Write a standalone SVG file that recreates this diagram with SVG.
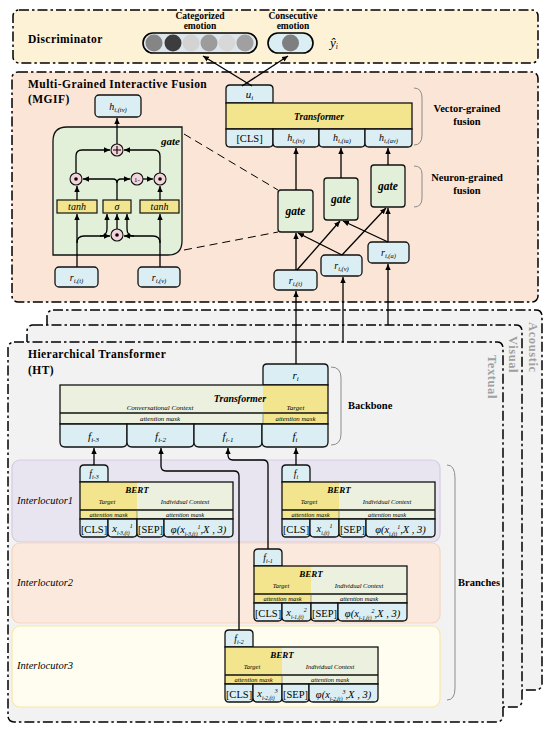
<svg xmlns="http://www.w3.org/2000/svg" width="550" height="733" viewBox="0 0 550 733">
<defs>
<marker id="ah" viewBox="0 0 10 10" refX="10" refY="5" markerWidth="6" markerHeight="6" markerUnits="userSpaceOnUse" orient="auto"><path d="M0,0.5 L10,5 L0,9.5 Z" fill="#000"/></marker>
<style>
text { font-family: "Liberation Serif", "Times New Roman", serif; fill:#000; }
.dd { stroke:#000; stroke-width:1.5; stroke-dasharray:10 3 2.5 3; }
.bl { fill:#DAEEF3; stroke:#111; stroke-width:1.3; }
.ye { fill:#F3E58D; }
.gr { fill:#EBF1DE; }
.ol { fill:none; stroke:#111; stroke-width:1.3; }
.thin { fill:none; stroke:#666; stroke-width:0.6; }
.ln { fill:none; stroke:#000; stroke-width:1.3; }
.ar { marker-end:url(#ah); }
.dash { fill:none; stroke:#000; stroke-width:1; stroke-dasharray:8 5; }
.b { font-weight:bold; }
.i { font-style:italic; }
.c { text-anchor:middle; }
.ttl { font-weight:bold; font-size:11.5px; letter-spacing:0.45px; }
.br { fill:none; stroke:#8c8c8c; stroke-width:1; }
.gb { fill:#E2F0D9; stroke:#111; stroke-width:1.3; }
.op { fill:#F4D3DA; stroke:#111; stroke-width:1.1; }
.layer { fill:#F2F2F2; }
.lt { fill:#A0A0A0; font-weight:bold; font-size:12.5px; letter-spacing:0.6px; }
</style>
</defs>

<g id="discriminator">
<rect x="13" y="10" width="525" height="53" rx="6" fill="#FDF1D6" class="dd"/>
<text x="28" y="43" class="ttl">Discriminator</text>
<text x="200" y="19" class="b c" font-size="9.5">Categorized</text>
<text x="200" y="29" class="b c" font-size="9.5">emotion</text>
<rect x="143" y="33" width="114" height="20" rx="10" fill="#DDE6EB"/>
<circle cx="154" cy="43" r="8.5" fill="#858585"/>
<circle cx="173" cy="43" r="8.5" fill="#3D3D3D"/>
<circle cx="191" cy="43" r="8.5" fill="#D3D3D3"/>
<circle cx="209" cy="43" r="8.5" fill="#9C9C9C"/>
<circle cx="227" cy="43" r="8.5" fill="#D8D8D8"/>
<circle cx="245" cy="43" r="8.5" fill="#A0A0A0"/>
<rect x="143" y="33" width="114" height="20" rx="10" fill="none" stroke="#000" stroke-width="1.6"/>
<text x="293" y="19" class="b c" font-size="9.5">Consecutive</text>
<text x="293" y="29" class="b c" font-size="9.5">emotion</text>
<rect x="268" y="33" width="45" height="20" rx="10" fill="#DAEEF3" stroke="#000" stroke-width="1.6"/>
<circle cx="290.5" cy="43" r="8.5" fill="#7F7F7F"/>
<text x="330" y="47" class="i" font-size="13">ŷ<tspan font-size="7.5" dy="2">i</tspan></text>
</g>

<g id="mgif">
<rect x="12" y="72" width="526" height="230" rx="6" fill="#FBE5D6" class="dd"/>
<text x="28" y="88" class="ttl">Multi-Grained Interactive Fusion</text>
<text x="28" y="103" class="ttl">(MGIF)</text>
</g>

<g id="gate-detail">
<rect x="95" y="95" width="46" height="22" rx="4" class="bl"/>
<text x="118" y="110" class="i c" font-size="10">h<tspan font-size="6.5" dy="2">i,(tv)</tspan></text>
<path class="gb" d="M67,127 H182 V241 Q182,255 168,255 H53 V141 Q53,127 67,127 Z"/>
<text x="180" y="145" class="b i" font-size="11" text-anchor="end">gate</text>
<rect x="57" y="200" width="40" height="13" class="ye" stroke="#111" stroke-width="1.2"/>
<text x="77" y="210" class="i c" font-size="10">tanh</text>
<rect x="103" y="200" width="28" height="13" class="ye" stroke="#111" stroke-width="1.2"/>
<text x="117" y="210" class="i c" font-size="10">σ</text>
<rect x="140" y="200" width="39" height="13" class="ye" stroke="#111" stroke-width="1.2"/>
<text x="159.5" y="210" class="i c" font-size="10">tanh</text>
<path class="ln ar" d="M77,267 V214"/>
<path class="ln ar" d="M160,267 V214"/>
<path class="ln ar" d="M77,243 Q77,236 84,236 H110"/>
<path class="ln ar" d="M100,236 Q107,236 107,229 V214"/>
<path class="ln ar" d="M160,243 Q160,236 153,236 H124"/>
<path class="ln ar" d="M134,236 Q127,236 127,229 V214"/>
<path class="ln ar" d="M117,229 V214"/>
<path class="ln ar" d="M77,200 V186"/>
<path class="ln ar" d="M160,200 V186"/>
<path class="ln ar" d="M117,200 V183 Q117,179 113,179 H83"/>
<path class="ln ar" d="M117,183 Q117,179 121,179 H130"/>
<path class="ln ar" d="M143,179 H153"/>
<path class="ln ar" d="M76,173 V156 Q76,150 82,150 H110"/>
<path class="ln ar" d="M160,173 V156 Q160,150 154,150 H124"/>
<path class="ln ar" d="M117,144 V118"/>
<circle cx="117" cy="150" r="6" class="op"/>
<path d="M113,150 H121 M117,146 V154" stroke="#000" stroke-width="1.1"/>
<circle cx="76" cy="179" r="6" class="op"/><circle cx="76" cy="179" r="1.8"/>
<circle cx="160" cy="179" r="6" class="op"/><circle cx="160" cy="179" r="1.8"/>
<circle cx="117" cy="235" r="6" class="op"/><circle cx="117" cy="235" r="1.8"/>
<circle cx="137" cy="179" r="6" class="op"/>
<text x="137" y="181.5" class="c" font-size="7">1-</text>
<rect x="55" y="267" width="43" height="20" rx="4" class="bl"/>
<text x="76.5" y="281" class="i c" font-size="10">r<tspan font-size="6.5" dy="2">i,(t)</tspan></text>
<rect x="138" y="267" width="42" height="20" rx="4" class="bl"/>
<text x="159" y="281" class="i c" font-size="10">r<tspan font-size="6.5" dy="2">i,(v)</tspan></text>
<path class="dash" d="M184,134 L278,190"/>
<path class="dash" d="M184,250 L278,232"/>
</g>

<g id="vector-fusion">
<path class="bl" d="M226,103 V89 Q226,85 230,85 H269 Q273,85 273,89 V103 Z"/>
<text x="249.5" y="98" class="i c" font-size="11">u<tspan font-size="7" dy="2">i</tspan></text>
<rect x="226" y="103" width="186" height="26" class="ye" stroke="#111" stroke-width="1.3"/>
<text x="319" y="120" class="b i c" font-size="9.5">Transformer</text>
<path class="bl" d="M226,129 H273 V143 Q273,147 269,147 H230 Q226,147 226,143 Z"/>
<path class="bl" d="M273,129 H319 V143 Q319,147 315,147 H277 Q273,147 273,143 Z"/>
<path class="bl" d="M319,129 H365 V143 Q365,147 361,147 H323 Q319,147 319,143 Z"/>
<path class="bl" d="M365,129 H412 V143 Q412,147 408,147 H369 Q365,147 365,143 Z"/>
<text x="249.5" y="142" class="c" font-size="10.5">[CLS]</text>
<text x="296" y="141" class="i c" font-size="10">h<tspan font-size="6.5" dy="2">i,(tv)</tspan></text>
<text x="342" y="141" class="i c" font-size="10">h<tspan font-size="6.5" dy="2">i,(ta)</tspan></text>
<text x="388.5" y="141" class="i c" font-size="10">h<tspan font-size="6.5" dy="2">i,(av)</tspan></text>
<path class="br" d="M414,88 Q422,88 422,98 V135 Q422,145 414,145"/>
<text x="467" y="112" class="b c" font-size="10.5">Vector-grained</text>
<text x="467" y="125" class="b c" font-size="10.5">fusion</text>
</g>

<g id="neuron-fusion">
<rect x="278" y="190" width="35" height="42" rx="3" class="gb"/>
<text x="295.5" y="215" class="b i c" font-size="11.5">gate</text>
<rect x="324" y="178" width="34" height="42" rx="3" class="gb"/>
<text x="341" y="203" class="b i c" font-size="11.5">gate</text>
<rect x="371" y="165" width="34" height="42" rx="3" class="gb"/>
<text x="388" y="190" class="b i c" font-size="11.5">gate</text>
<path class="br" d="M414,166 Q422,166 422,174 V198 Q422,207 414,207"/>
<text x="467" y="181" class="b c" font-size="10.5">Neuron-grained</text>
<text x="467" y="194" class="b c" font-size="10.5">fusion</text>
<rect x="274" y="270" width="43" height="20" rx="4" class="bl"/>
<text x="295.5" y="284" class="i c" font-size="10">r<tspan font-size="6.5" dy="2">i,(t)</tspan></text>
<rect x="321" y="255" width="41" height="21" rx="4" class="bl"/>
<text x="341.5" y="269" class="i c" font-size="10">r<tspan font-size="6.5" dy="2">i,(v)</tspan></text>
<rect x="368" y="242" width="41" height="21" rx="4" class="bl"/>
<text x="388.5" y="256" class="i c" font-size="10">r<tspan font-size="6.5" dy="2">i,(a)</tspan></text>
</g>

<g id="layers">
<rect x="47" y="310" width="495" height="380" rx="6" class="layer dd"/>
<rect x="27" y="325" width="495" height="382" rx="6" class="layer dd"/>
<rect x="8" y="342" width="495" height="380" rx="6" class="layer dd"/>
<text class="lt" transform="translate(529,322) rotate(90)">Acoustic</text>
<text class="lt" transform="translate(509,336) rotate(90)">Visual</text>
<text class="lt" transform="translate(488,355) rotate(90)">Textual</text>
<text x="28" y="358" class="ttl">Hierarchical Transformer</text>
<text x="28" y="374" class="ttl">(HT)</text>
</g>

<g id="ht-transformer">
<path class="bl" d="M263,385 V368 Q263,364 267,364 H324 Q328,364 328,368 V385 Z"/>
<text x="295.5" y="379" class="i c" font-size="11">r<tspan font-size="7" dy="2">i</tspan></text>
<rect x="60" y="385" width="203" height="39" class="gr"/>
<rect x="263" y="385" width="65" height="39" class="ye"/>
<rect x="60" y="385" width="268" height="39" class="ol"/>
<line x1="60" y1="413" x2="328" y2="413" class="ol"/>
<line x1="263" y1="413" x2="263" y2="424" class="thin"/>
<text x="240" y="402" class="b i c" font-size="10">Transformer</text>
<text x="160" y="410" class="i c" font-size="7">Conversational Context</text>
<text x="295.5" y="410" class="i c" font-size="7">Target</text>
<text x="160" y="421" class="i c" font-size="6.8">attention mask</text>
<text x="295.5" y="421" class="i c" font-size="6.8">attention mask</text>
<path class="bl" d="M60,424 H127 V442 Q127,447 122,447 H65 Q60,447 60,442 Z"/>
<path class="bl" d="M127,424 H194 V442 Q194,447 189,447 H132 Q127,447 127,442 Z"/>
<path class="bl" d="M194,424 H262 V442 Q262,447 257,447 H199 Q194,447 194,442 Z"/>
<path class="bl" d="M262,424 H328 V442 Q328,447 323,447 H267 Q262,447 262,442 Z"/>
<text x="93.5" y="440" class="i c" font-size="11">f<tspan font-size="7" dy="2">i-3</tspan></text>
<text x="160.5" y="440" class="i c" font-size="11">f<tspan font-size="7" dy="2">i-2</tspan></text>
<text x="228" y="440" class="i c" font-size="11">f<tspan font-size="7" dy="2">i-1</tspan></text>
<text x="295" y="440" class="i c" font-size="11">f<tspan font-size="7" dy="2">i</tspan></text>
<path class="br" d="M331,367 Q341,367 341,378 V434 Q341,445 331,445"/>
<text x="348" y="409" class="b" font-size="10.5">Backbone</text>
</g>

<g id="interlocutor1">
<rect x="12" y="460" width="428" height="82" rx="8" fill="#E9E5F0" stroke="#D5CCE3" stroke-width="1.2"/>
<text x="17" y="504" class="i" font-size="10.5">Interlocutor1</text>
</g>
<g id="interlocutor2">
<rect x="12" y="543" width="428" height="80" rx="8" fill="#FCE9DD" stroke="#F6D5C0" stroke-width="1.2"/>
<text x="17" y="586" class="i" font-size="10.5">Interlocutor2</text>
</g>
<g id="interlocutor3">
<rect x="12" y="626" width="428" height="81" rx="8" fill="#FEFDF0" stroke="#FAE6A8" stroke-width="1.2"/>
<text x="17" y="669" class="i" font-size="10.5">Interlocutor3</text>
</g>
<g id="branches-label">
<path class="br" d="M447,465 Q455,465 455,478 V688 Q455,700 447,700"/>
<text x="458" y="586" class="b" font-size="10.5">Branches</text>
</g>

<g id="bert-i3" transform="translate(80,482)">
<path class="bl" d="M0,0V-13Q0,-17 4,-17H24Q28,-17 28,-13V0Z"/>
<text x="14" y="-5" class="i c" font-size="9.5">f<tspan font-size="6" dy="2">i-3</tspan></text>
<rect x="0" y="0" width="57" height="37" class="ye"/>
<rect x="57" y="0" width="96" height="37" class="gr"/>
<rect x="0" y="0" width="153" height="37" class="ol"/>
<line x1="0" y1="28" x2="153" y2="28" class="ol"/>
<line x1="57" y1="28" x2="57" y2="37" class="thin"/>
<text x="57" y="11" class="b i c" font-size="9">BERT</text>
<text x="27" y="22" class="i c" font-size="6.5">Target</text>
<text x="105" y="22" class="i c" font-size="6.5">Individual Context</text>
<text x="28.5" y="35" class="i c" font-size="6.5">attention mask</text>
<text x="105" y="35" class="i c" font-size="6.5">attention mask</text>
<path class="bl" d="M0,37H28V51Q28,55 24,55H4Q0,55 0,51Z"/>
<path class="bl" d="M28,37H57V51Q57,55 53,55H32Q28,55 28,51Z"/>
<path class="bl" d="M57,37H84V51Q84,55 80,55H61Q57,55 57,51Z"/>
<path class="bl" d="M84,37H153V51Q153,55 149,55H88Q84,55 84,51Z"/>
<text x="14" y="51" class="c" font-size="10.5">[CLS]</text>
<text x="42.5" y="50" class="i c" font-size="10.5">x<tspan font-size="5.5" dy="2.5">i-3,(t)</tspan><tspan font-size="6" dy="-6.5">1</tspan></text>
<text x="70.5" y="51" class="c" font-size="10.5">[SEP]</text>
<text x="118.5" y="51" class="i c" font-size="10.5">φ(x<tspan font-size="5.5" dy="2.5">i-3,(t)</tspan><tspan font-size="6" dy="-6.5">1</tspan><tspan dy="4">,X , 3)</tspan></text>
</g>

<g id="bert-i" transform="translate(282,482)">
<path class="bl" d="M0,0V-13Q0,-17 4,-17H24Q28,-17 28,-13V0Z"/>
<text x="14" y="-5" class="i c" font-size="9.5">f<tspan font-size="6" dy="2">i</tspan></text>
<rect x="0" y="0" width="57" height="37" class="ye"/>
<rect x="57" y="0" width="96" height="37" class="gr"/>
<rect x="0" y="0" width="153" height="37" class="ol"/>
<line x1="0" y1="28" x2="153" y2="28" class="ol"/>
<line x1="57" y1="28" x2="57" y2="37" class="thin"/>
<text x="57" y="11" class="b i c" font-size="9">BERT</text>
<text x="27" y="22" class="i c" font-size="6.5">Target</text>
<text x="105" y="22" class="i c" font-size="6.5">Individual Context</text>
<text x="28.5" y="35" class="i c" font-size="6.5">attention mask</text>
<text x="105" y="35" class="i c" font-size="6.5">attention mask</text>
<path class="bl" d="M0,37H28V51Q28,55 24,55H4Q0,55 0,51Z"/>
<path class="bl" d="M28,37H57V51Q57,55 53,55H32Q28,55 28,51Z"/>
<path class="bl" d="M57,37H84V51Q84,55 80,55H61Q57,55 57,51Z"/>
<path class="bl" d="M84,37H153V51Q153,55 149,55H88Q84,55 84,51Z"/>
<text x="14" y="51" class="c" font-size="10.5">[CLS]</text>
<text x="42.5" y="50" class="i c" font-size="10.5">x<tspan font-size="5.5" dy="2.5">i,(t)</tspan><tspan font-size="6" dy="-6.5">1</tspan></text>
<text x="70.5" y="51" class="c" font-size="10.5">[SEP]</text>
<text x="118.5" y="51" class="i c" font-size="10.5">φ(x<tspan font-size="5.5" dy="2.5">i,(t)</tspan><tspan font-size="6" dy="-6.5">1</tspan><tspan dy="4">,X , 3)</tspan></text>
</g>

<g id="bert-i1" transform="translate(254,566)">
<path class="bl" d="M0,0V-13Q0,-17 4,-17H24Q28,-17 28,-13V0Z"/>
<text x="14" y="-5" class="i c" font-size="9.5">f<tspan font-size="6" dy="2">i-1</tspan></text>
<rect x="0" y="0" width="57" height="37" class="ye"/>
<rect x="57" y="0" width="96" height="37" class="gr"/>
<rect x="0" y="0" width="153" height="37" class="ol"/>
<line x1="0" y1="28" x2="153" y2="28" class="ol"/>
<line x1="57" y1="28" x2="57" y2="37" class="thin"/>
<text x="57" y="11" class="b i c" font-size="9">BERT</text>
<text x="27" y="22" class="i c" font-size="6.5">Target</text>
<text x="105" y="22" class="i c" font-size="6.5">Individual Context</text>
<text x="28.5" y="35" class="i c" font-size="6.5">attention mask</text>
<text x="105" y="35" class="i c" font-size="6.5">attention mask</text>
<path class="bl" d="M0,37H28V51Q28,55 24,55H4Q0,55 0,51Z"/>
<path class="bl" d="M28,37H57V51Q57,55 53,55H32Q28,55 28,51Z"/>
<path class="bl" d="M57,37H84V51Q84,55 80,55H61Q57,55 57,51Z"/>
<path class="bl" d="M84,37H153V51Q153,55 149,55H88Q84,55 84,51Z"/>
<text x="14" y="51" class="c" font-size="10.5">[CLS]</text>
<text x="42.5" y="50" class="i c" font-size="10.5">x<tspan font-size="5.5" dy="2.5">i-1,(t)</tspan><tspan font-size="6" dy="-6.5">2</tspan></text>
<text x="70.5" y="51" class="c" font-size="10.5">[SEP]</text>
<text x="118.5" y="51" class="i c" font-size="10.5">φ(x<tspan font-size="5.5" dy="2.5">i-1,(t)</tspan><tspan font-size="6" dy="-6.5">2</tspan><tspan dy="4">,X , 3)</tspan></text>
</g>

<g id="bert-i2" transform="translate(225,647)">
<path class="bl" d="M0,0V-13Q0,-17 4,-17H24Q28,-17 28,-13V0Z"/>
<text x="14" y="-5" class="i c" font-size="9.5">f<tspan font-size="6" dy="2">i-2</tspan></text>
<rect x="0" y="0" width="57" height="37" class="ye"/>
<rect x="57" y="0" width="96" height="37" class="gr"/>
<rect x="0" y="0" width="153" height="37" class="ol"/>
<line x1="0" y1="28" x2="153" y2="28" class="ol"/>
<line x1="57" y1="28" x2="57" y2="37" class="thin"/>
<text x="57" y="11" class="b i c" font-size="9">BERT</text>
<text x="27" y="22" class="i c" font-size="6.5">Target</text>
<text x="105" y="22" class="i c" font-size="6.5">Individual Context</text>
<text x="28.5" y="35" class="i c" font-size="6.5">attention mask</text>
<text x="105" y="35" class="i c" font-size="6.5">attention mask</text>
<path class="bl" d="M0,37H28V51Q28,55 24,55H4Q0,55 0,51Z"/>
<path class="bl" d="M28,37H57V51Q57,55 53,55H32Q28,55 28,51Z"/>
<path class="bl" d="M57,37H84V51Q84,55 80,55H61Q57,55 57,51Z"/>
<path class="bl" d="M84,37H153V51Q153,55 149,55H88Q84,55 84,51Z"/>
<text x="14" y="51" class="c" font-size="10.5">[CLS]</text>
<text x="42.5" y="50" class="i c" font-size="10.5">x<tspan font-size="5.5" dy="2.5">i-2,(t)</tspan><tspan font-size="6" dy="-6.5">3</tspan></text>
<text x="70.5" y="51" class="c" font-size="10.5">[SEP]</text>
<text x="118.5" y="51" class="i c" font-size="10.5">φ(x<tspan font-size="5.5" dy="2.5">i-2,(t)</tspan><tspan font-size="6" dy="-6.5">3</tspan><tspan dy="4">,X , 3)</tspan></text>
</g>

<g id="connectors">
<path class="ln ar" d="M252,86 L203,56"/>
<path class="ln ar" d="M242,86 L288,56"/>
<path class="ln ar" d="M296,190 V148"/>
<path class="ln ar" d="M341,178 V148"/>
<path class="ln ar" d="M388,165 V148"/>
<path class="ln ar" d="M296,270 V233"/>
<path class="ln ar" d="M297,270 L340,221"/>
<path class="ln ar" d="M342,255 L298,233"/>
<path class="ln ar" d="M342,255 L386,208"/>
<path class="ln ar" d="M388,242 L343,221"/>
<path class="ln ar" d="M388,242 V208"/>
<path class="ln ar" d="M296,364 V291"/>
<path class="ln ar" d="M343,342 V277"/>
<path class="ln ar" d="M388,325 V264"/>
<path class="ln ar" d="M94,465 V448"/>
<path class="ln ar" d="M296,465 V448"/>
<path class="ln ar" d="M239,630 V476 Q239,471 234,471 H166 Q161,471 161,466 V448"/>
<path class="ln ar" d="M268,549 V465 Q268,460 263,460 H233 Q228,460 228,455 V448"/>
</g>
</svg>
